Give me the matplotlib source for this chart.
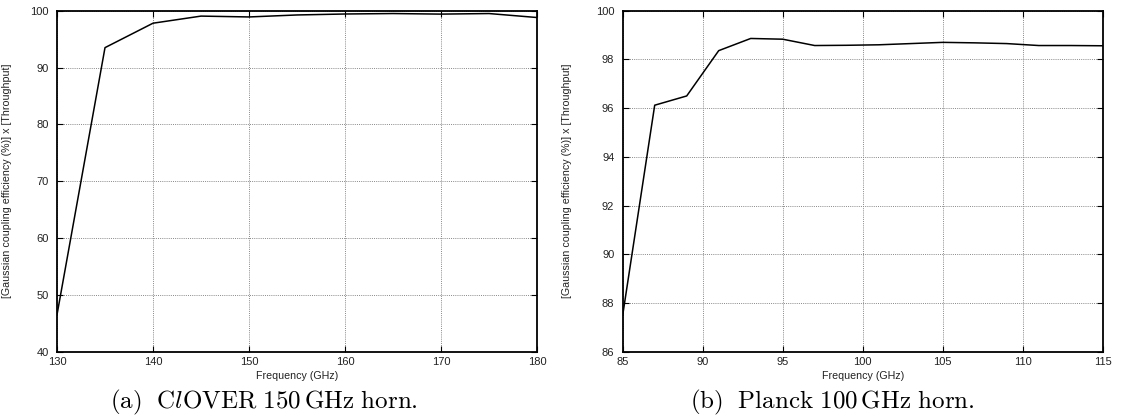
import matplotlib
matplotlib.use("Agg")
import matplotlib.pyplot as plt

plt.rcParams['font.family'] = ['Liberation Sans', 'DejaVu Sans']
plt.rcParams['mathtext.fontset'] = 'cm'

# Panel (a): CLOVER 150 GHz horn
clover_freq = [130, 135, 140, 145, 150, 155, 160, 165, 170, 175, 180]
clover_eff = [46.5, 93.5, 97.8, 99.05, 98.9, 99.25, 99.42, 99.5, 99.4, 99.5, 98.8]
clover_xticks = [130, 140, 150, 160, 170, 180]
clover_yticks = [40, 50, 60, 70, 80, 90, 100]

# Panel (b): Planck 100 GHz horn
planck_freq = [85, 87, 89, 91, 93, 95, 97, 99, 101, 103, 105, 107, 109, 111, 113, 115]
planck_eff = [87.5, 96.12, 96.5, 98.36, 98.86, 98.83, 98.57, 98.58, 98.6, 98.65, 98.7,
              98.68, 98.65, 98.57, 98.57, 98.56]
planck_xticks = [85, 90, 95, 100, 105, 110, 115]
planck_yticks = [86, 88, 90, 92, 94, 96, 98, 100]

ylabel = "[Gaussian coupling efficiency (%)] x [Throughput]"
xlabel = "Frequency (GHz)"
captions = [r"$\mathrm{(a)\ \ C}l\mathrm{OVER\ 150\,GHz\ horn.}$",
            r"$\mathrm{(b)\ \ Planck\ 100\,GHz\ horn.}$"]

W, H = 1128, 420
fig = plt.figure(figsize=(W / 100, H / 100), dpi=100)

axes_px = [(57, 10.7, 480, 341), (622.7, 10.7, 480, 341)]
panels = [
    (clover_freq, clover_eff, clover_xticks, clover_yticks),
    (planck_freq, planck_eff, planck_xticks, planck_yticks),
]
cap_cx = [264, 832]
ylab_x = [7, 567]

for i, ((x, y, xt, yt), (l, t, w, h)) in enumerate(zip(panels, axes_px)):
    ax = fig.add_axes([l / W, 1 - (t + h) / H, w / W, h / H])
    ax.plot(x, y, color='black', lw=1.1)
    ax.set_xlim(xt[0], xt[-1])
    ax.set_ylim(yt[0], yt[-1])
    ax.set_xticks(xt)
    ax.set_yticks(yt)
    ax.tick_params(direction='in', length=4, width=0.8, labelsize=8,
                   top=True, right=True, pad=4, colors='black',
                   labelcolor='#222222')
    ax.tick_params(axis='y', pad=6)
    ax.grid(True, linestyle=(0, (1, 1.2)), color='#888888', lw=0.7)
    for s in ax.spines.values():
        s.set_linewidth(1.3)
    ax.set_xlabel(xlabel, fontsize=7.7, labelpad=3, color='#222222')
    fig.text(ylab_x[i] / W, 1 - (t + h / 2) / H, ylabel, rotation=90,
             ha='center', va='center', fontsize=7.7, color='#222222')
    fig.text(cap_cx[i] / W, 1 - 408 / H, captions[i], ha='center',
             va='baseline', fontsize=18)

fig.savefig("out.png", dpi=100)
